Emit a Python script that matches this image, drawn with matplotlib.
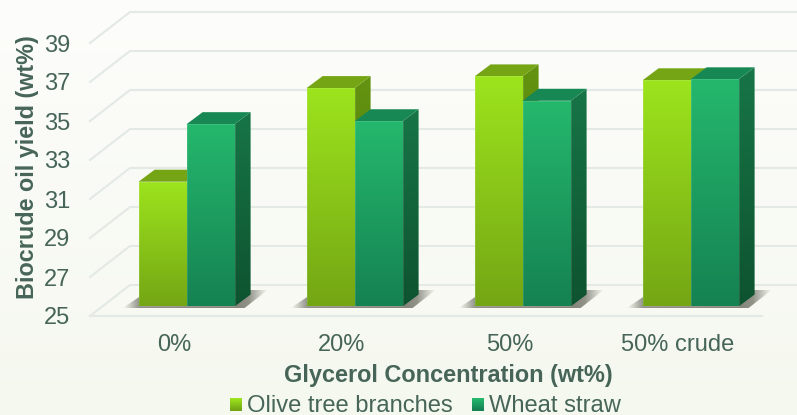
import numpy as np
import matplotlib
matplotlib.use('Agg')
import matplotlib.pyplot as plt
from matplotlib.colors import to_rgb
from matplotlib.legend_handler import HandlerBase
from matplotlib.patches import Patch, Polygon, Rectangle

categories = ['0%', '20%', '50%', '50% crude']
olive = [31.4, 36.2, 36.8, 36.6]
wheat = [34.35, 34.5, 35.55, 36.65]
y_ticks = [25, 27, 29, 31, 33, 35, 37, 39]

TEXT = '#466558'
GRID = '#E3E9E5'
OLIVE_STYLE = {'front': ('#9DE41D', '#74A614'), 'side': ('#639310', '#4F7A0C'), 'top': '#75A514'}
WHEAT_STYLE = {'front': ('#25B86D', '#158252'), 'side': ('#177546', '#0E5330'), 'top': '#178853'}

# pixel offsets of the wall, the bar plane and the depth of one bar
WALL = (40, 31)
PLANE = (12.6, 9.5)
BAR_DEPTH = (16, 12)
PX_X = 168.0
PX_Y = 19.5
BAR_W = 48 / PX_X

plt.rcParams['font.family'] = ['Liberation Sans', 'DejaVu Sans']

fig = plt.figure(figsize=(7.97, 4.15), dpi=100)

# background fades from near white to a pale green
bg = fig.add_axes([0, 0, 1, 1], zorder=0)
bg_colors = np.linspace(to_rgb('#FDFDFB'), to_rgb('#F5F8EF'), 256)[:, None, :]
bg.imshow(bg_colors, aspect='auto', extent=[0, 1, 0, 1])
bg.axis('off')

ax = fig.add_axes([90 / 797, (415 - 316) / 415, 672 / 797, 273 / 415], zorder=1)
ax.patch.set_alpha(0)
ax.set_xlim(-0.5, 3.5)
ax.set_ylim(25, 39)


def shift(x, v, offset):
    return x + offset[0] / PX_X, v + offset[1] / PX_Y


def clip_image(im, pts):
    im.set_clip_path(Polygon(pts, closed=True, transform=ax.transData))
    im.set_clip_box(fig.bbox)


def gradient(x0, x1, v0, v1, top, bottom, clip_pts, z):
    colors = np.linspace(to_rgb(top), to_rgb(bottom), 128)[:, None, :]
    im = ax.imshow(colors, extent=[x0, x1, v0, v1], aspect='auto', zorder=z, interpolation='bilinear')
    clip_image(im, clip_pts)


def draw_bar(x, value, style, z):
    back = (PLANE[0] + BAR_DEPTH[0], PLANE[1] + BAR_DEPTH[1])
    x0, b0 = shift(x, 25, PLANE)
    x1, t0 = shift(x + BAR_W, value, PLANE)
    x2, b1 = shift(x + BAR_W, 25, back)
    x3, t1 = shift(x + BAR_W, value, back)
    xb, _ = shift(x, 25, back)

    # right side
    side = [(x1, b0), (x2, b1), (x3, t1), (x1, t0)]
    gradient(x1, x2, b0, t1, style['side'][0], style['side'][1], side, z)
    # top face
    ax.add_patch(Polygon([(x0, t0), (x1, t0), (x3, t1), (xb, t1)], closed=True, fc=style['top'], ec='none', zorder=z + 0.1))
    # front face
    front = [(x0, b0), (x1, b0), (x1, t0), (x0, t0)]
    gradient(x0, x1, b0, t0, style['front'][0], style['front'][1], front, z + 0.2)
    ax.add_patch(Polygon(front, closed=True, fill=False, ec='white', alpha=0.12, lw=0.7, zorder=z + 0.3))


def draw_shadow(center):
    # soft shadow on the floor under each group of bars
    base = PLANE[1] - 1.5
    x0 = center + (PLANE[0] - 64) / PX_X
    x1 = center + (PLANE[0] + 81) / PX_X
    v0 = 25 + base / PX_Y
    v1 = 25 + (base + 18) / PX_Y
    pts = [(x0, v0),
           (center + (PLANE[0] + 58) / PX_X, v0),
           (x1, v1),
           (center + (PLANE[0] - 37) / PX_X, v1)]
    xs = np.linspace(-64, 81, 145)
    alpha = np.interp(xs, [-64, -48, 50, 62, 81], [0, 0.8, 0.9, 0.8, 0])
    rgba = np.zeros((1, 145, 4))
    rgba[..., :3] = to_rgb('#77776C')
    rgba[0, :, 3] = alpha
    im = ax.imshow(rgba, extent=[x0, x1, v0, v1], aspect='auto', zorder=2, interpolation='bilinear')
    clip_image(im, pts)


# gridlines run along the floor edge and the back wall
for v in y_ticks:
    x_wall, v_wall = shift(-0.5, v, WALL)
    x_end, _ = shift(3.5, v, WALL)
    ax.plot([-0.5, x_wall, x_end], [v, v_wall, v_wall], color=GRID, lw=1.5, clip_on=False, zorder=1)
ax.plot([-0.5, 3.5], [25, 25], color=GRID, lw=1.5, clip_on=False, zorder=1)

for i in range(len(categories)):
    draw_shadow(i)
    draw_bar(i - BAR_W, olive[i], OLIVE_STYLE, 3 + i * 2)
    draw_bar(i, wheat[i], WHEAT_STYLE, 4 + i * 2)

ax.set_xlim(-0.5, 3.5)
ax.set_ylim(25, 39)
ax.set_xticks(range(len(categories)))
ax.set_xticklabels(categories)
ax.set_yticks(y_ticks)
ax.tick_params(axis='both', length=0, labelsize=17, labelcolor=TEXT)
ax.tick_params(axis='x', pad=13)
ax.tick_params(axis='y', pad=14)
for s in ax.spines.values():
    s.set_visible(False)

ax.set_xlabel('Glycerol Concentration (wt%)', fontsize=16.9, fontweight='bold', color=TEXT, va='center')
ax.xaxis.set_label_coords(0.533, -0.217)
ax.set_ylabel('Biocrude oil yield (wt%)', fontsize=16.8, fontweight='bold', color=TEXT, va='center')
ax.yaxis.set_label_coords(-0.093, 0.546)


class GradientHandler(HandlerBase):
    # legend square built from thin strips so it shows the bar gradient
    def create_artists(self, legend, orig_handle, xdescent, ydescent, width, height, fontsize, trans):
        top, bottom = orig_handle.grad
        n = 12
        size = 8.6
        y0 = (height - size) / 2 - 1
        strips = []
        for k in range(n):
            c = np.array(to_rgb(top)) * (1 - k / (n - 1)) + np.array(to_rgb(bottom)) * k / (n - 1)
            strips.append(Rectangle((width - size, y0 + size * (n - 1 - k) / n), size, size / n + 0.1,
                                    fc=c, ec='none', transform=trans))
        return strips


h1 = Patch(label='Olive tree branches')
h1.grad = OLIVE_STYLE['front']
h2 = Patch(label='Wheat straw')
h2.grad = WHEAT_STYLE['front']
fig.legend(handles=[h1, h2], ncol=2, loc='center', bbox_to_anchor=(425.5 / 797, (415 - 405.5) / 415),
           frameon=False, fontsize=17.1, labelcolor=TEXT, handlelength=0.51, handletextpad=0.2,
           columnspacing=0.82, borderpad=0, borderaxespad=0,
           handler_map={Patch: GradientHandler()})

fig.savefig('out.png', dpi=100)
